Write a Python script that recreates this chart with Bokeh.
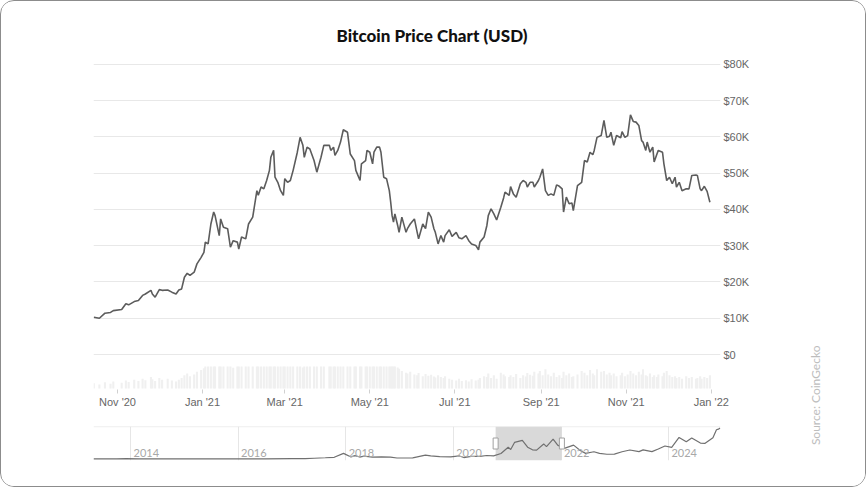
import pandas as pd
from math import pi
from bokeh.plotting import figure
from bokeh.layouts import row, column
from bokeh.models import (Range1d, FixedTicker, CustomJSTickFormatter, Span,
                          BoxAnnotation, Label, ColumnDataSource)
from bokeh.core.properties import value
from bokeh.embed import file_html
from bokeh.resources import INLINE

TITLE = "Bitcoin Price Chart (USD)"
SOURCE_TEXT = "Source: CoinGecko"

# ---------------- main series (days since base date, price in $K, volume in $B shown) -------------
base_date = "2020-11-01"
day_offsets = [
    -17, -13, -9, -5, -3, 3, 6, 8, 12, 15,
    18, 20, 24, 25, 27, 30, 32, 36, 39, 42,
    44, 46, 48, 50, 52, 55, 57, 60, 62, 63,
    65, 67, 69, 70, 73, 74, 76, 79, 81, 83,
    86, 87, 89, 92, 94, 97, 100, 101, 103, 105,
    107, 109, 110, 112, 113, 115, 117, 119, 120, 122,
    124, 126, 129, 131, 133, 134, 136, 138, 141, 143,
    146, 148, 152, 153, 155, 156, 158, 160, 162, 165,
    167, 170, 171, 174, 175, 178, 179, 181, 183, 184,
    186, 188, 189, 191, 193, 195, 196, 197, 198, 199,
    201, 202, 204, 207, 208, 210, 213, 215, 216, 219,
    221, 223, 225, 227, 228, 230, 232, 234, 235, 238,
    240, 243, 245, 247, 250, 252, 254, 257, 259, 260,
    263, 265, 266, 268, 270, 272, 275, 277, 278, 281,
    282, 284, 286, 289, 291, 293, 294, 296, 298, 299,
    302, 303, 305, 307, 309, 311, 313, 315, 317, 319,
    320, 322, 324, 326, 327, 330, 333, 335, 337, 339,
    341, 342, 344, 347, 349, 351, 353, 354, 356, 358,
    361, 362, 364, 366, 368, 370, 372, 374, 376, 377,
    379, 380, 382, 384, 385, 387, 388, 391, 392, 394,
    396, 398, 400, 401, 403, 405, 408, 410, 412, 415,
    416, 418, 419, 421, 423, 425,
]
price_k = [
    10.3, 10.0, 11.4, 11.6, 12.1, 12.4, 14.0, 13.7, 14.6, 14.9,
    16.3, 16.7, 17.7, 16.7, 15.8, 17.9, 17.7, 17.8, 17.2, 16.7,
    17.8, 18.1, 21.3, 22.4, 21.8, 22.7, 25.0, 26.8, 28.2, 31.0,
    30.5, 36.0, 39.3, 38.3, 32.8, 37.4, 35.1, 34.7, 29.6, 31.4,
    31.0, 29.1, 32.4, 31.9, 36.0, 37.9, 45.2, 43.9, 46.2, 45.7,
    48.0, 50.8, 54.4, 56.3, 48.9, 47.5, 45.2, 43.9, 48.5, 47.5,
    48.0, 50.8, 55.8, 59.9, 57.7, 54.4, 57.2, 56.7, 53.5, 50.3,
    54.4, 57.7, 57.7, 56.3, 57.2, 54.9, 56.3, 58.6, 62.0, 61.3,
    55.3, 53.5, 50.8, 48.0, 52.6, 53.5, 56.3, 55.8, 52.6, 55.8,
    57.2, 57.2, 55.8, 48.9, 48.5, 45.2, 42.0, 38.3, 36.5, 38.8,
    35.6, 33.7, 37.9, 33.7, 34.7, 36.0, 37.4, 33.7, 31.9, 36.0,
    34.7, 39.3, 37.9, 34.7, 33.7, 30.5, 32.8, 31.0, 32.8, 34.4,
    32.6, 33.7, 32.2, 31.9, 32.8, 31.4, 30.5, 30.1, 28.9, 31.0,
    32.4, 35.6, 38.3, 40.2, 38.8, 37.1, 40.6, 43.2, 44.8, 43.9,
    46.3, 44.3, 43.4, 47.1, 48.0, 47.5, 46.2, 47.5, 47.5, 46.2,
    48.0, 48.9, 51.2, 45.2, 43.9, 44.3, 43.9, 46.8, 46.4, 45.7,
    39.3, 43.4, 41.6, 41.8, 39.7, 46.6, 47.5, 53.5, 53.1, 55.8,
    55.1, 56.3, 59.9, 60.4, 64.6, 59.9, 60.2, 61.3, 57.7, 60.4,
    59.8, 61.5, 59.9, 60.4, 66.1, 64.3, 64.1, 63.2, 59.0, 58.6,
    56.3, 58.6, 55.8, 57.2, 53.1, 55.3, 56.3, 55.8, 52.6, 48.0,
    48.9, 47.1, 48.9, 46.2, 47.5, 45.2, 45.7, 45.7, 49.4, 49.5,
    49.4, 45.7, 45.2, 46.4, 45.0, 42.0,
]
volume_b = [
    12, 9, 14, 11, 16, 13, 18, 15, 20, 17,
    22, 19, 26, 21, 17, 24, 20, 22, 18, 16,
    20, 24, 30, 34, 28, 32, 38, 42, 46, 50,
    50, 50, 50, 50, 50, 50, 50, 50, 50, 47,
    50, 50, 50, 50, 50, 50, 50, 50, 50, 50,
    50, 50, 50, 50, 50, 50, 50, 50, 50, 50,
    50, 50, 50, 50, 48, 50, 50, 50, 50, 50,
    50, 50, 50, 50, 50, 50, 50, 50, 50, 50,
    50, 50, 50, 50, 50, 50, 50, 50, 50, 50,
    50, 50, 50, 50, 50, 50, 50, 50, 50, 50,
    48, 45, 40, 36, 34, 38, 32, 30, 35, 28,
    33, 29, 31, 27, 25, 30, 26, 24, 28, 22,
    20, 18, 22, 17, 19, 16, 21, 18, 20, 24,
    28, 26, 34, 24, 30, 22, 36, 32, 28, 26,
    30, 26, 33, 24, 30, 27, 35, 31, 29, 38,
    34, 40, 30, 44, 32, 28, 36, 26, 30, 24,
    38, 30, 34, 26, 28, 32, 40, 36, 30, 42,
    34, 30, 44, 38, 40, 32, 36, 30, 34, 28,
    30, 36, 28, 32, 40, 34, 30, 38, 32, 44,
    30, 28, 34, 26, 30, 26, 32, 28, 36, 40,
    30, 26, 28, 24, 26, 22, 28, 24, 26, 22,
    24, 28, 22, 26, 24, 30,
]

price_ticks_k = [0, 10, 20, 30, 40, 50, 60, 70, 80]
price_tick_labels = ["$0", "$10K", "$20K", "$30K", "$40K", "$50K", "$60K", "$70K", "$80K"]
date_ticks = ["2020-11-01", "2021-01-01", "2021-03-01", "2021-05-01",
              "2021-07-01", "2021-09-01", "2021-11-01", "2022-01-01"]
date_tick_labels = ["Nov '20", "Jan '21", "Mar '21", "May '21",
                    "Jul '21", "Sep '21", "Nov '21", "Jan '22"]

# ---------------- navigator (full history, price in $K) ----------------
nav_dates = [
    "2013-04-25", "2013-10-01", "2013-12-01", "2014-03-01", "2014-08-01", "2015-01-15",
    "2015-07-01", "2016-01-01", "2016-07-01", "2017-01-01", "2017-04-01", "2017-06-01",
    "2017-08-15", "2017-10-15", "2017-12-17", "2018-02-06", "2018-03-05", "2018-04-06",
    "2018-05-05", "2018-07-01", "2018-09-01", "2018-11-01", "2018-12-15", "2019-02-01",
    "2019-04-01", "2019-06-26", "2019-08-01", "2019-10-01", "2019-12-15", "2020-02-12",
    "2020-03-13", "2020-05-01", "2020-07-01", "2020-08-15", "2020-10-01", "2020-11-20",
    "2021-01-08", "2021-01-25", "2021-02-20", "2021-04-14", "2021-05-20", "2021-06-22",
    "2021-07-20", "2021-09-06", "2021-09-25", "2021-11-09", "2021-12-10", "2022-01-24",
    "2022-03-28", "2022-05-12", "2022-06-18", "2022-08-13", "2022-09-20", "2022-11-09",
    "2022-12-30", "2023-02-20", "2023-04-14", "2023-06-15", "2023-07-13", "2023-09-11",
    "2023-10-24", "2023-12-08", "2024-01-23", "2024-03-13", "2024-05-01", "2024-06-07",
    "2024-08-05", "2024-09-06", "2024-10-29", "2024-11-22", "2024-12-05", "2024-12-17",
]
nav_price_k = [
    0.14, 0.13, 1.0, 0.6, 0.6, 0.2,
    0.25, 0.43, 0.67, 1.0, 1.1, 2.5,
    4.2, 5.7, 19.0, 7.0, 11.4, 6.6,
    9.7, 6.3, 7.0, 6.3, 3.3, 3.4,
    4.1, 12.9, 10.4, 8.3, 7.1, 10.3,
    4.9, 8.8, 9.1, 11.8, 10.6, 18.5,
    40.0, 32.0, 56.0, 63.0, 40.0, 31.0,
    30.0, 51.0, 42.0, 67.0, 47.0, 36.0,
    47.0, 29.0, 19.0, 24.5, 19.0, 16.0,
    16.5, 24.5, 30.5, 25.0, 31.0, 25.0,
    34.0, 44.0, 39.5, 73.0, 58.0, 71.0,
    54.0, 53.0, 72.0, 99.0, 101.0, 105.0,
]
nav_year_ticks = ["2014-01-01", "2016-01-01", "2018-01-01", "2020-01-01", "2022-01-01", "2024-01-01"]
nav_year_labels = ["2014", "2016", "2018", "2020", "2022", "2024"]


def ms(t):
    return pd.Timestamp(t).value / 1e6


DAY_MS = 86400000.0
base = pd.Timestamp(base_date)
dates = base + pd.to_timedelta(day_offsets, unit="D")
src = ColumnDataSource(dict(date=dates, price=price_k, vol=volume_b))

LABEL_JS = "const i = tick_values.indexOf(tick); return i >= 0 ? tick_labels[i] : '';"
AXIS_FONT = "Liberation Sans"
x_start = ms(base - pd.Timedelta(days=17.22))
x_end = ms(base + pd.Timedelta(days=432.6))
y_lo, y_hi = -9.655, 81.103

p = figure(width=788, height=414, x_axis_type="datetime", y_axis_location="right",
           x_range=Range1d(x_start, x_end), y_range=Range1d(y_lo, y_hi),
           output_backend="svg", toolbar_location=None,
           min_border_left=92, min_border_right=69, min_border_top=59, min_border_bottom=26,
           outline_line_color=None, background_fill_color="white", border_fill_color="white")
p.extra_y_ranges = {"vol": Range1d(-2.27, 745.5)}

p.vbar(x="date", top="vol", bottom=0, width=1.5 * DAY_MS, y_range_name="vol",
       source=src, fill_color="#f0f0f0", line_color=None)
p.line(x="date", y="price", source=src, line_color="#5c5c5c", line_width=1.6)

# title above the plot area, shifted to sit centred on the card
p.title.text = TITLE
p.title.align = "left"
p.title.offset = 243
p.title.standoff = 30
p.title.text_font = "'Lato Black', Lato"
p.title.text_font_size = "17px"
p.title.text_font_style = "bold"
p.title.text_color = "#111111"

price_ticker = FixedTicker(ticks=price_ticks_k)
p.yaxis.ticker = price_ticker
p.yaxis.formatter = CustomJSTickFormatter(
    args=dict(tick_values=price_ticks_k, tick_labels=price_tick_labels), code=LABEL_JS)
p.yaxis.axis_line_color = None
p.yaxis.major_tick_line_color = None
p.yaxis.major_tick_out = 0
p.yaxis.major_tick_in = 0
p.yaxis.minor_tick_line_color = None
p.yaxis.minor_tick_out = 0
p.yaxis.major_label_standoff = 3
p.yaxis.major_label_text_font = AXIS_FONT
p.yaxis.major_label_text_font_size = "11px"
p.yaxis.major_label_text_color = "#666666"
p.ygrid.ticker = price_ticker
p.ygrid.grid_line_color = "#e8e8e8"
p.xgrid.grid_line_color = None

date_ms = [ms(d) for d in date_ticks]
p.xaxis.ticker = FixedTicker(ticks=date_ms)
p.xaxis.formatter = CustomJSTickFormatter(
    args=dict(tick_values=date_ms, tick_labels=date_tick_labels), code=LABEL_JS)
p.xaxis.axis_line_color = None
p.xaxis.major_tick_out = 4
p.xaxis.major_tick_in = 0
p.xaxis.major_tick_line_color = "#d0d0d0"
p.xaxis.minor_tick_line_color = None
p.xaxis.major_label_standoff = 2
p.xaxis.major_label_text_font = AXIS_FONT
p.xaxis.major_label_text_font_size = "11px"
p.xaxis.major_label_text_color = "#666666"

# ---------------- navigator ----------------
nav_x_start = ms(pd.Timestamp("2014-01-01") - pd.Timedelta(days=0.6877 * 365.25))
nav_x_end = ms(pd.Timestamp("2014-01-01") + pd.Timedelta(days=10.966 * 365.25))
nav_y = Range1d(-5.08, 110)
nav = figure(width=788, height=71, x_axis_type="datetime",
             x_axis_location=None, y_axis_location=None,
             x_range=Range1d(nav_x_start, nav_x_end), y_range=nav_y,
             output_backend="svg", toolbar_location=None,
             min_border_left=92, min_border_right=69, min_border_top=11, min_border_bottom=26,
             outline_line_color=None, background_fill_color="white", border_fill_color="white")
year_ms = [ms(d) for d in nav_year_ticks]
nav.xgrid.ticker = FixedTicker(ticks=year_ms)
nav.xgrid.grid_line_color = "#e6e6e6"
nav.ygrid.grid_line_color = None
nav.add_layout(Span(location=nav_y.end - 0.5, dimension="width", line_color="#e0e0e0", line_width=1))
nav.add_layout(BoxAnnotation(left=x_start, right=x_end, fill_color="#d9d9d9", fill_alpha=1.0,
                             line_color=None, level="underlay"))
nav.line(x=pd.to_datetime(nav_dates), y=nav_price_k, line_color="#707070", line_width=1.2)
nav.text(x=year_ms, y=[0] * len(year_ms), text=nav_year_labels, x_offset=3, y_offset=-2,
         text_align="left", text_baseline="bottom", text_font=value("Lato"),
         text_font_size="11px", text_color="#a8a8a8")
mid = (nav_y.start + nav_y.end) / 2
nav.rect(x=[x_start, x_end], y=[mid, mid], width=5, height=11,
         width_units="screen", height_units="screen",
         fill_color="white", line_color="#a0a0a0", line_width=1)

# ---------------- side label ----------------
side = figure(width=76, height=485, x_range=Range1d(0, 1), y_range=Range1d(0, 1),
              x_axis_location=None, y_axis_location=None, min_border=0,
              output_backend="svg", toolbar_location=None, outline_line_color=None,
              background_fill_color="white", border_fill_color="white")
side.grid.visible = False
side.add_layout(Label(x=0.342, y=0.188, text=SOURCE_TEXT, angle=pi / 2,
                      text_align="center", text_baseline="middle",
                      text_font="Lato", text_font_size="12px", text_color="#bdbdbd"))

layout = row(column(p, nav), side,
             styles={"border": "1px solid #8c8c8c", "border-radius": "14px",
                     "overflow": "hidden", "background": "white"})

open("out.html", "w").write(file_html(layout, INLINE))
